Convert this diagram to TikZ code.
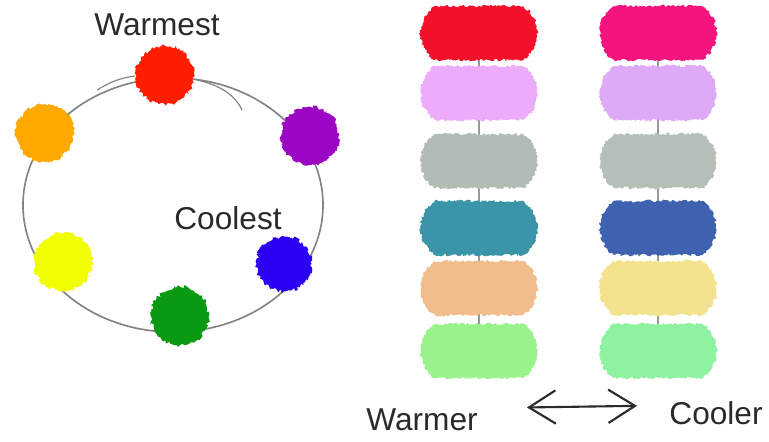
\documentclass[tikz,border=0pt]{standalone}
\usepackage{fontspec}
\setmainfont{Liberation Sans}
\usetikzlibrary{arrows.meta}
\usetikzlibrary{decorations.pathmorphing}
\usetikzlibrary{shapes.misc}
\usetikzlibrary{backgrounds}
\usetikzlibrary{positioning}

\definecolor{ringgrey}{HTML}{828282}
\definecolor{stemgrey}{HTML}{999999}
\definecolor{inkgrey}{HTML}{2A2A2A}
\definecolor{huered}{HTML}{FF1E00}
\definecolor{huepurple}{HTML}{9C05C4}
\definecolor{hueorange}{HTML}{FFA800}
\definecolor{hueyellow}{HTML}{F2FF00}
\definecolor{huegreen}{HTML}{0A9A12}
\definecolor{hueblue}{HTML}{2C00F2}
% warm column
\definecolor{wa}{HTML}{F2102A}
\definecolor{wb}{HTML}{ECACFA}
\definecolor{wc}{HTML}{B2BCB4}
\definecolor{wd}{HTML}{3A95A9}
\definecolor{we}{HTML}{F1BD8C}
\definecolor{wf}{HTML}{9AF28C}
% cool column
\definecolor{ca}{HTML}{F5137E}
\definecolor{cb}{HTML}{DEA9F7}
\definecolor{cc}{HTML}{B5BFB7}
\definecolor{cd}{HTML}{3F62B0}
\definecolor{ce}{HTML}{F4E38E}
\definecolor{cf}{HTML}{8EF2A0}

\begin{document}
\begin{tikzpicture}[x=0.03cm,y=-0.03cm]
		\pgfmathsetseed{11}
		\tikzstyle{blob} = [circle, minimum size=1.75cm, inner sep=0pt, decorate, decoration={random steps,segment length=1.5pt,amplitude=1.6pt}]
		\tikzstyle{swatch} = [rounded rectangle, rounded rectangle arc length=110, minimum height=1.62cm, inner sep=0pt, decorate, decoration={random steps,segment length=1.5pt,amplitude=1.2pt}]
		\tikzstyle{words} = [font=\fontsize{27}{32}\selectfont, text=inkgrey]
		\tikzstyle{ring} = [draw=ringgrey, line width=1.4pt]
		\tikzstyle{stem} = [draw=stemgrey, line width=1pt]
		\tikzstyle{arrow} = [draw=inkgrey, line width=1.8pt, {Straight Barb[length=0.8cm,width=1cm]}-{Straight Barb[length=0.8cm,width=1cm]}]
		\useasboundingbox (0,0) rectangle (769,441);

		% colour wheel
		\draw[ring] (173,205) ellipse [x radius=150, y radius=127];
		\draw[ring, line width=1pt] (97,90) .. controls (110,82) and (120,78) .. (135,76);
		\draw[ring, line width=1pt] (197,80) .. controls (220,85) and (235,95) .. (242,110);
		\node[blob, fill=huered] (red) at (165,75) {};
		\node[blob, fill=huepurple] (purple) at (310,136) {};
		\node[blob, fill=hueblue, minimum size=1.65cm] (blue) at (284,264) {};
		\node[blob, fill=huegreen] (green) at (180,316) {};
		\node[blob, fill=hueyellow] (yellow) at (63,262) {};
		\node[blob, fill=hueorange] (orange) at (45,133) {};
		\node[words] (warmest) at (157,25) {Warmest};
		\node[words] (coolest) at (228,218) {Coolest};

		% swatch columns
		\foreach \n/\y in {a/33, b/93, c/161, d/228, e/288, f/351} {
			\node[swatch, fill=w\n, minimum width=3.5cm] (w\n) at (479,\y) {};
			\node[swatch, fill=c\n, minimum width=3.5cm] (c\n) at (658,\y) {};
		}
		\begin{scope}[on background layer]
			\draw[stem] (wa) -- (wf);
			\draw[stem] (ca) -- (cf);
		\end{scope}

		\node[words] (warmer) at (422,420) {Warmer};
		\node[words] (cooler) at (716,413) {Cooler};
		\draw[arrow, shorten <=3.15cm, shorten >=2.37cm] ([yshift=0.33cm]warmer.center) -- ([yshift=0.25cm]cooler.center);
	\end{tikzpicture}
\end{document}
